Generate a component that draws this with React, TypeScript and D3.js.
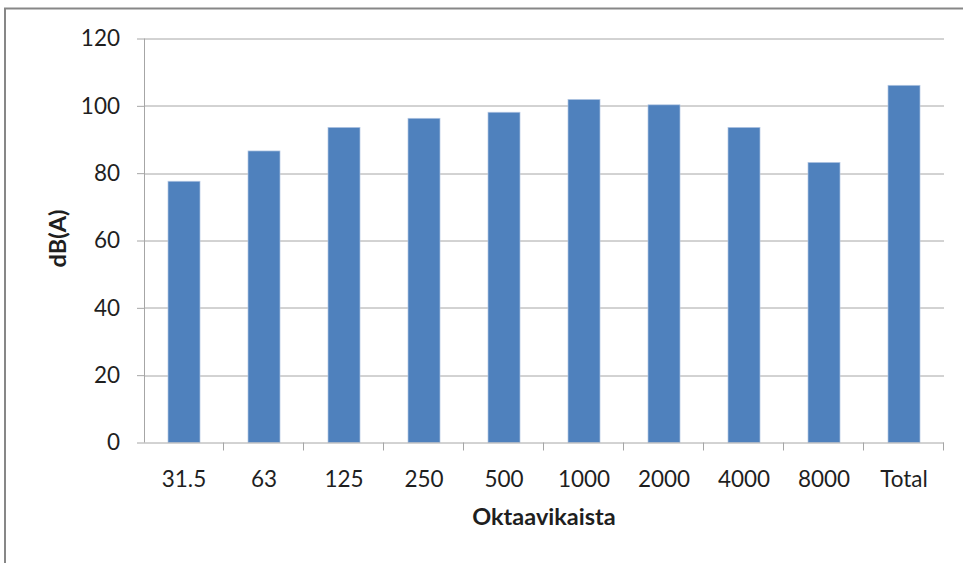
import React, { useEffect, useRef } from 'react';
import * as d3 from 'd3';

const bands = ['31.5', '63', '125', '250', '500', '1000', '2000', '4000', '8000', 'Total'];
const levels = [77.6, 86.6, 93.6, 96.3, 98.1, 101.9, 100.3, 93.6, 83.2, 106.1];
const yTicks = [0, 20, 40, 60, 80, 100, 120];

const W = 963;
const H = 563;

const App = () => {
  const ref = useRef<SVGSVGElement | null>(null);

  useEffect(() => {
    if (!ref.current) return;
    const svg = d3.select(ref.current);
    svg.selectAll('*').remove();

    const margin = { top: 38.5, right: 19, bottom: 120.5, left: 144 };
    const width = W - margin.left - margin.right;
    const height = H - margin.top - margin.bottom;
    const font = "Lato, 'Open Sans', sans-serif";
    const textColor = '#1f1f1f';

    // outer frame (runs off the right and bottom edges)
    svg.append('rect')
      .attr('x', 5).attr('y', 8.5)
      .attr('width', W + 20).attr('height', H + 20)
      .attr('fill', 'white')
      .attr('stroke', '#878787')
      .attr('stroke-width', 2);

    const chart = svg.append('g')
      .attr('transform', `translate(${margin.left}, ${margin.top})`);

    const x = d3.scaleBand().domain(bands).range([0, width]).paddingInner(0.6).paddingOuter(0.3);
    const xEdge = d3.scaleBand().domain(bands).range([0, width]);
    const y = d3.scaleLinear().domain([0, 120]).range([height, 0]);

    // gridlines
    chart.append('g')
      .selectAll('line')
      .data(yTicks.filter(t => t > 0))
      .join('line')
      .attr('x1', 0).attr('x2', width)
      .attr('y1', d => Math.round(y(d)) + 0.5).attr('y2', d => Math.round(y(d)) + 0.5)
      .attr('stroke', '#a6a6a6')
      .attr('stroke-width', 1);

    // bars
    chart.append('g')
      .selectAll('rect')
      .data(levels)
      .join('rect')
      .attr('x', (d, i) => x(bands[i])!)
      .attr('y', d => y(d))
      .attr('width', x.bandwidth())
      .attr('height', d => height - y(d))
      .attr('fill', '#4f81bd')
      .attr('stroke', '#b3c7e3')
      .attr('stroke-width', 0.7);

    // y axis
    const yAxis = chart.append('g')
      .call(d3.axisLeft(y).tickValues(yTicks).tickSize(7).tickPadding(17));
    yAxis.select('.domain').attr('stroke', '#a6a6a6').attr('d', `M0.5,0V${height}`);
    yAxis.selectAll('.tick line').attr('stroke', '#a6a6a6');
    yAxis.selectAll('text')
      .attr('font-family', font).attr('font-size', 22.5).attr('fill', textColor);

    // x axis
    const xAxis = chart.append('g')
      .attr('transform', `translate(0, ${height})`)
      .call(d3.axisBottom(xEdge).tickSize(0));
    xAxis.select('.domain').attr('stroke', '#a6a6a6').attr('d', `M0,0.5H${width}`);
    xAxis.selectAll('text')
      .attr('y', 44).attr('dy', 0)
      .attr('font-family', font).attr('font-size', 22.5).attr('fill', textColor);
    xAxis.append('g')
      .selectAll('line')
      .data(bands)
      .join('line')
      .attr('x1', d => Math.round(xEdge(d)! + xEdge.bandwidth()) - 0.5)
      .attr('x2', d => Math.round(xEdge(d)! + xEdge.bandwidth()) - 0.5)
      .attr('y1', 0).attr('y2', 8)
      .attr('stroke', '#a6a6a6');

    // axis titles
    svg.append('text')
      .attr('transform', `translate(66, ${margin.top + height / 2 - 2}) rotate(-90)`)
      .attr('text-anchor', 'middle')
      .attr('font-family', font).attr('font-weight', 'bold').attr('font-size', 23.5)
      .attr('fill', textColor)
      .text('dB(A)');

    svg.append('text')
      .attr('x', 544).attr('y', 525)
      .attr('text-anchor', 'middle')
      .attr('font-family', font).attr('font-weight', 'bold').attr('font-size', 23.5)
      .attr('fill', textColor)
      .text('Oktaavikaista');
  }, []);

  return (
    <svg
      ref={ref}
      width={W}
      height={H}
      style={{ position: 'absolute', left: 0, top: 0, background: 'white' }}
    />
  );
};

export default App;
